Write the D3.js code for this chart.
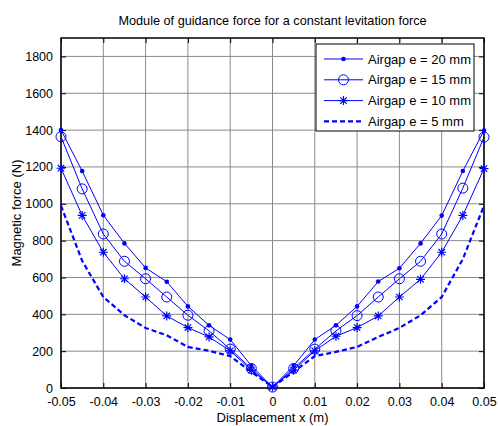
<!DOCTYPE html>
<html>
<head>
<meta charset="utf-8">
<script src="https://cdn.jsdelivr.net/npm/d3@7/dist/d3.min.js"></script>
<style>
  body { margin: 0; background: #fff; }
  svg { display: block; font-family: "Liberation Sans", Arial, sans-serif; }
</style>
</head>
<body>
<svg id="chart" width="498" height="426"></svg>
<script>
// displacement (m)
var xs = [-0.05, -0.045, -0.04, -0.035, -0.03, -0.025, -0.02, -0.015, -0.01, -0.005, 0,
          0.005, 0.01, 0.015, 0.02, 0.025, 0.03, 0.035, 0.04, 0.045, 0.05];

// magnetic force (N)
var force20 = [1400, 1178, 938, 785, 652, 577, 443, 340, 263, 121, 5,
               121, 263, 340, 443, 578, 650, 785, 936, 1178, 1398];
var force15 = [1364, 1081, 836, 688, 593, 494, 395, 310, 211, 106, 5,
               106, 211, 310, 393, 494, 593, 688, 836, 1085, 1362];
var force10 = [1193, 937, 737, 593, 494, 391, 328, 277, 202, 97, 5,
               97, 202, 281, 328, 391, 494, 590, 737, 937, 1191];
var force5 = [990, 690, 494, 395, 326, 286, 223, 202, 173, 88, 5,
              88, 173, 196, 223, 277, 326, 395, 494, 700, 990];

var seriesNames = ["Airgap e = 20 mm", "Airgap e = 15 mm", "Airgap e = 10 mm", "Airgap e = 5 mm"];
var xTicks = [-0.05, -0.04, -0.03, -0.02, -0.01, 0, 0.01, 0.02, 0.03, 0.04, 0.05];
var xTickLabels = ["-0.05", "-0.04", "-0.03", "-0.02", "-0.01", "0", "0.01", "0.02", "0.03", "0.04", "0.05"];
var yTicks = [0, 200, 400, 600, 800, 1000, 1200, 1400, 1600, 1800];

var series = [
    {name: seriesNames[0], values: force20, marker: "dot", dash: null},
    {name: seriesNames[1], values: force15, marker: "circle", dash: null},
    {name: seriesNames[2], values: force10, marker: "star", dash: null},
    {name: seriesNames[3], values: force5, marker: null, dash: "5,3"}
];

var width = 498, height = 426;
var margin = {top: 38, right: 14, bottom: 38, left: 61};
var blue = "#0000ff";
var fontSize = "12.5px";

var svg = d3.select("#chart");

var x = d3.scaleLinear().domain([-0.05, 0.05]).range([margin.left, width - margin.right]);
var y = d3.scaleLinear().domain([0, 1900]).range([height - margin.bottom, margin.top]);

// grid
var grid = svg.append("g");
grid.selectAll(".vg").data(xTicks).enter().append("line")
    .attr("x1", function (d) { return x(d); })
    .attr("x2", function (d) { return x(d); })
    .attr("y1", y(0)).attr("y2", y(1900))
    .style("stroke", "#8a8a8a").style("stroke-width", 1);
grid.selectAll(".hg").data(yTicks).enter().append("line")
    .attr("x1", x(-0.05)).attr("x2", x(0.05))
    .attr("y1", function (d) { return y(d); })
    .attr("y2", function (d) { return y(d); })
    .style("stroke", "#8a8a8a").style("stroke-width", 1);

// axes (ticks inward, like matlab)
svg.append("g")
    .attr("transform", "translate(0," + y(0) + ")")
    .call(d3.axisBottom(x).tickValues(xTicks).tickSizeInner(-5).tickSizeOuter(0).tickPadding(9)
        .tickFormat(function (d, i) { return xTickLabels[i]; }));
svg.append("g")
    .attr("transform", "translate(" + x(-0.05) + ",0)")
    .call(d3.axisLeft(y).tickValues(yTicks).tickSizeInner(-5).tickSizeOuter(0).tickPadding(8)
        .tickFormat(d3.format("d")));
svg.append("g")
    .attr("transform", "translate(0," + y(1900) + ")")
    .call(d3.axisTop(x).tickValues(xTicks).tickSizeInner(-5).tickSizeOuter(0).tickFormat(""));
svg.append("g")
    .attr("transform", "translate(" + x(0.05) + ",0)")
    .call(d3.axisRight(y).tickValues(yTicks).tickSizeInner(-5).tickSizeOuter(0).tickFormat(""));

svg.selectAll(".domain").remove();
svg.selectAll(".tick text").style("font-size", fontSize).style("fill", "#000")
    .style("font-family", "'Liberation Sans', Arial, sans-serif");
svg.selectAll(".tick line").style("stroke", "#000");

// frame
svg.append("rect")
    .attr("x", x(-0.05)).attr("y", y(1900))
    .attr("width", x(0.05) - x(-0.05)).attr("height", y(0) - y(1900))
    .style("fill", "none").style("stroke", "#000").style("stroke-width", 1.5);

// lines
var line = d3.line()
    .x(function (d, i) { return x(xs[i]); })
    .y(function (d) { return y(d); });

function drawMarker(g, type) {
    if (type === "dot") {
        g.append("circle").attr("r", 2.3).style("fill", blue);
    } else if (type === "circle") {
        g.append("circle").attr("r", 5).style("fill", "none").style("stroke", blue).style("stroke-width", 1);
    } else if (type === "star") {
        g.append("path")
            .attr("d", "M-4.5,0H4.5M0,-4.5V4.5M-3.2,-3.2L3.2,3.2M-3.2,3.2L3.2,-3.2")
            .style("stroke", blue).style("stroke-width", 1.2).style("fill", "none");
    }
}

series.forEach(function (s) {
    svg.append("path")
        .attr("d", line(s.values))
        .style("fill", "none")
        .style("stroke", blue)
        .style("stroke-width", s.dash ? 2.2 : 1)
        .style("stroke-dasharray", s.dash);
    if (s.marker) {
        svg.selectAll(null).data(s.values).enter().append("g")
            .attr("transform", function (d, i) { return "translate(" + x(xs[i]) + "," + y(d) + ")"; })
            .each(function () { drawMarker(d3.select(this), s.marker); });
    }
});

// legend
var legend = svg.append("g").attr("transform", "translate(316,44)");
legend.append("rect")
    .attr("width", 158).attr("height", 87)
    .style("fill", "#fff").style("stroke", "#000").style("stroke-width", 1);
series.forEach(function (s, i) {
    var ly = 15 + i * 20.8;
    legend.append("line")
        .attr("x1", 8).attr("x2", 47).attr("y1", ly).attr("y2", ly)
        .style("stroke", blue)
        .style("stroke-width", s.dash ? 2.2 : 1)
        .style("stroke-dasharray", s.dash);
    if (s.marker) {
        var mg = legend.append("g").attr("transform", "translate(27.5," + ly + ")");
        drawMarker(mg, s.marker);
    }
    legend.append("text")
        .attr("x", 52).attr("y", ly + 4.5)
        .style("font-size", "13px")
        .text(s.name);
});

// titles
svg.append("text")
    .attr("x", (x(-0.05) + x(0.05)) / 2).attr("y", 25)
    .attr("text-anchor", "middle")
    .style("font-size", "12.7px")
    .text("Module of guidance force for a constant levitation force");
svg.append("text")
    .attr("x", (x(-0.05) + x(0.05)) / 2).attr("y", 422)
    .attr("text-anchor", "middle")
    .style("font-size", "13px")
    .text("Displacement x (m)");
svg.append("text")
    .attr("transform", "translate(21," + ((y(0) + y(1900)) / 2) + ") rotate(-90)")
    .attr("text-anchor", "middle")
    .style("font-size", "13px")
    .text("Magnetic force (N)");
</script>
</body>
</html>
